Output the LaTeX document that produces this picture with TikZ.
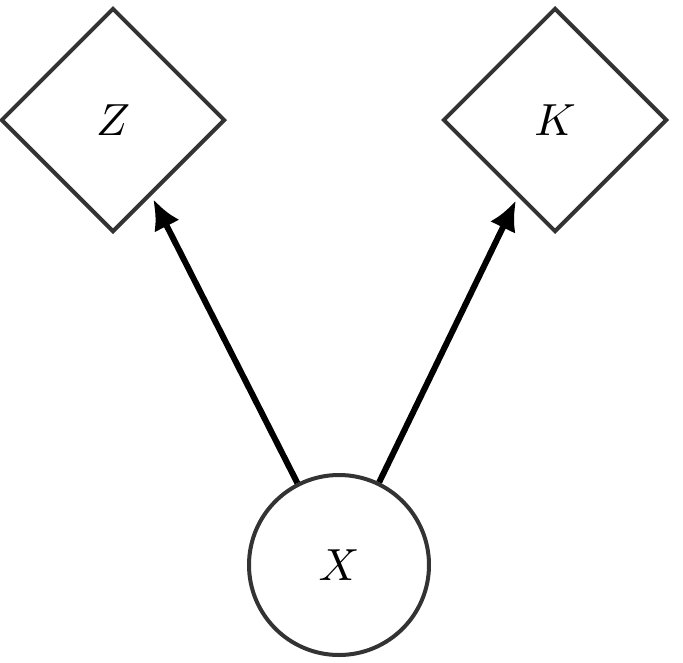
\documentclass[tikz,border=0pt]{standalone}
\usetikzlibrary{shapes.geometric,arrows.meta}
\begin{document}
\begin{tikzpicture}[x=1pt,y=-1pt,
  dnode/.style={diamond,draw=black!80,line width=4pt,minimum width=224pt,minimum height=224pt,inner sep=0pt},
  cnode/.style={circle,draw=black!80,line width=4pt,minimum size=180pt,inner sep=0pt},
  edge/.style={line width=6pt,-{Latex[length=30pt,width=28pt]},shorten >=4pt}]
\useasboundingbox (0,0) rectangle (683,662);
\node[dnode] (Z) at (113,120) {\scalebox{4.5}{$Z$}};
\node[dnode] (K) at (555,120) {\scalebox{4.5}{$K$}};
\node[cnode] (X) at (339,565) {\scalebox{4.5}{$X$}};
\draw[edge] (X) -- (Z);
\draw[edge] (X) -- (K);
\end{tikzpicture}
\end{document}
